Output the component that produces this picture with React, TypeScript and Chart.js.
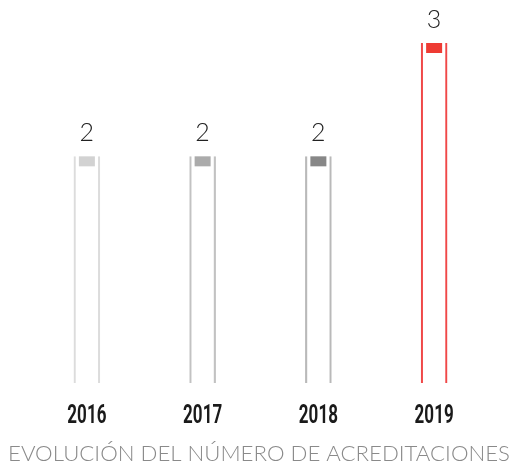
import React, { useEffect, useRef } from "react";
import { Chart, registerables } from "chart.js";

Chart.register(...registerables);

const categories = ["2016", "2017", "2018", "2019"];
const values = [2, 2, 2, 3];
const lineColors = ["#dcdcdc", "#c2c2c2", "#b9b9b9", "#f04848"];
const capColors = ["#d2d2d2", "#ababab", "#878787", "#ee3b33"];
const titleText = "EVOLUCIÓN DEL NÚMERO DE ACREDITACIONES";

const textPlugin = {
  id: "texts",
  afterDatasetsDraw(chart: any) {
    const ctx = chart.ctx;
    const meta = chart.getDatasetMeta(0);
    const area = chart.chartArea;
    meta.data.forEach((bar: any, i: number) => {
      const x = bar.x;
      const y = bar.y;
      ctx.save();
      ctx.fillStyle = capColors[i];
      ctx.fillRect(x - 8, y, 16, 10);
      ctx.fillStyle = "#222";
      ctx.font = "300 25px Lato, 'Open Sans', sans-serif";
      ctx.textAlign = "center";
      ctx.textBaseline = "alphabetic";
      ctx.fillText(String(values[i]), x, y - 15);
      ctx.restore();

      const xs = chart.scales.x.getPixelForValue(i);
      ctx.save();
      ctx.translate(xs, area.bottom + 40);
      ctx.scale(0.68, 1);
      ctx.fillStyle = "#1a1a1a";
      ctx.font = "bold 25px Roboto, sans-serif";
      ctx.textAlign = "center";
      ctx.textBaseline = "alphabetic";
      ctx.fillText(categories[i], 0, 0);
      ctx.restore();
    });
    ctx.save();
    ctx.fillStyle = "#8a8a8a";
    ctx.font = "300 22px Lato, 'Open Sans', sans-serif";
    ctx.textAlign = "center";
    ctx.textBaseline = "alphabetic";
    const w = ctx.measureText(titleText).width;
    const target = 502;
    ctx.translate(259, 461);
    ctx.scale(Math.min(1.2, target / w), 1);
    ctx.fillText(titleText, 0, 0);
    ctx.restore();
  },
};

export default function App() {
  const ref = useRef<HTMLCanvasElement | null>(null);
  useEffect(() => {
    if (!ref.current) return;
    const chart = new Chart(ref.current, {
      type: "bar",
      data: {
        labels: categories,
        datasets: [
          {
            data: values,
            backgroundColor: "rgba(0,0,0,0)",
            borderColor: lineColors,
            borderWidth: { left: 1.5, right: 1.5, top: 0, bottom: 0 },
            borderSkipped: false,
            barThickness: 26,
          },
        ],
      },
      options: {
        animation: false,
        responsive: false,
        maintainAspectRatio: false,
        layout: { padding: { left: 29, right: 22, top: 9, bottom: 86 } },
        plugins: {
          legend: { display: false },
          tooltip: { enabled: false },
          title: { display: false },
        },
        scales: {
          x: {
            display: false,
            offset: true,
            grid: { display: false },
          },
          y: {
            display: false,
            min: 0,
            max: 3.3,
          },
        },
      },
      plugins: [textPlugin],
    });
    return () => chart.destroy();
  }, []);
  return (
    <div style={{ position: "absolute", left: 0, top: 0, width: 514, height: 469 }}>
      <canvas ref={ref} width={514} height={469} style={{ display: "block" }} />
    </div>
  );
}
